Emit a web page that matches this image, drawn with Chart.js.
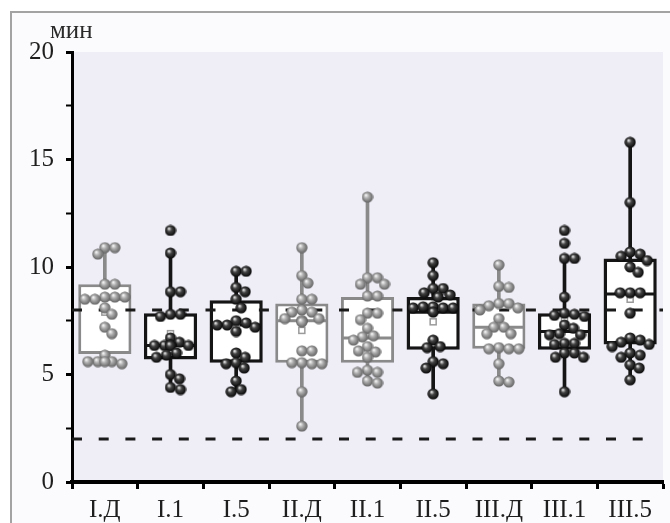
<!DOCTYPE html>
<html>
<head>
<meta charset="utf-8">
<script src="https://cdn.jsdelivr.net/npm/chart.js@4/dist/chart.umd.min.js"></script>
<style>
    body { margin: 0; background: #ffffff; }
    #wrap { position: relative; width: 670px; height: 523px; overflow: hidden; }
    #frame {
        position: absolute; left: 10px; top: 11px; width: 700px; height: 600px;
        border-top: 2px solid #a3a3a3; border-left: 2px solid #a3a3a3;
        background: #fbfbfd;
    }
    #chart { position: absolute; left: 0; top: 0; }
</style>
</head>
<body>
<div id="wrap">
    <div id="frame"></div>
    <canvas id="chart" width="670" height="523"></canvas>
</div>
<script>
// Groups along the x axis
const categories = ['I.Д', 'I.1', 'I.5', 'II.Д', 'II.1', 'II.5', 'III.Д', 'III.1', 'III.5'];
// true = dark (black) group, false = grey group
const darkGroup = [false, true, true, false, false, true, false, true, true];

// Box statistics, minutes
const whiskerLow  = [5.6, 4.3, 4.2, 2.6, 4.6, 4.1, 4.7, 4.2, 4.75];
const quartile1   = [5.95, 5.7, 5.55, 5.55, 5.55, 6.15, 6.2, 6.15, 6.4];
const medians     = [8.5, 6.35, 7.3, 7.5, 6.7, 7.9, 7.2, 7.0, 8.75];
const quartile3   = [9.2, 7.85, 8.45, 8.3, 8.6, 8.6, 8.3, 7.85, 10.4];
const whiskerHigh = [10.7, 10.65, 9.8, 10.9, 13.25, 10.2, 10.1, 10.4, 15.8];
const means       = [7.9, 6.9, 7.3, 7.05, 7.05, 7.45, 7.3, 7.6, 8.5];

// Individual observations per group
const ptsID   = [10.9, 10.9, 10.6, 9.2, 9.2, 8.6, 8.6, 8.5, 8.6, 8.5, 8.1, 7.8, 7.2, 6.9, 5.9, 5.6, 5.6, 5.5, 5.6, 5.6];
const ptsI1   = [11.7, 10.65, 8.85, 8.85, 7.8, 7.8, 7.7, 6.7, 6.5, 6.35, 6.35, 6.35, 6.35, 6.35, 6.0, 5.9, 5.8, 5.0, 4.8, 4.4, 4.3];
const ptsI5   = [9.8, 9.8, 9.05, 8.85, 8.5, 8.1, 7.5, 7.4, 7.3, 7.3, 7.2, 7.0, 6.0, 5.8, 5.55, 5.5, 5.3, 4.7, 4.3, 4.2];
const ptsIID  = [10.9, 9.6, 9.25, 8.5, 8.5, 8.0, 7.9, 7.9, 7.6, 7.6, 7.5, 7.5, 7.45, 6.1, 6.1, 5.55, 5.5, 5.55, 5.5, 4.2, 2.6];
const ptsII1  = [13.25, 9.5, 9.5, 9.2, 9.2, 8.65, 8.65, 7.85, 7.85, 7.55, 7.15, 6.8, 6.75, 6.6, 6.3, 6.05, 6.1, 5.8, 5.2, 5.1, 5.1, 4.7, 4.6];
const ptsII5  = [10.2, 9.6, 9.0, 9.0, 8.8, 8.7, 8.6, 8.15, 8.1, 8.15, 8.1, 8.1, 7.9, 6.6, 6.3, 6.25, 5.6, 5.5, 5.3, 4.1];
const ptsIIID = [10.1, 9.1, 9.05, 8.3, 8.3, 8.2, 8.1, 8.0, 7.6, 7.2, 7.2, 6.9, 6.9, 6.25, 6.2, 6.2, 6.2, 5.5, 4.7, 4.65];
const ptsIII1 = [11.7, 11.1, 10.4, 10.4, 8.6, 7.85, 7.8, 7.75, 7.7, 7.3, 7.15, 6.9, 6.85, 6.85, 6.45, 6.45, 6.4, 6.0, 6.0, 5.8, 5.8, 4.2];
const ptsIII5 = [15.8, 13.0, 10.7, 10.6, 10.5, 10.3, 10.0, 9.75, 8.8, 8.8, 8.8, 7.85, 6.7, 6.6, 6.5, 6.4, 6.3, 6.0, 5.9, 5.8, 5.45, 5.3, 4.75];
const groupPoints = [ptsID, ptsI1, ptsI5, ptsIID, ptsII1, ptsII5, ptsIIID, ptsIII1, ptsIII5];

// Dashed reference levels
const refUpper = 8;
const refLower = 2;
const yTicks = [0, 2.5, 5, 7.5, 10, 12.5, 15, 17.5, 20];

const DARK = '#151515';
const GREY = '#8a8a8a';
const FONT = "'Liberation Serif', 'Times New Roman', serif";

// Shaded sphere used as point marker
function makeBall(dark) {
    const c = document.createElement('canvas');
    c.width = 12; c.height = 12;
    const g = c.getContext('2d');
    const grad = g.createRadialGradient(4.3, 4.0, 0.4, 6, 6, 6);
    grad.addColorStop(0, dark ? '#e6e6e6' : '#f4f4f4');
    grad.addColorStop(0.35, dark ? '#444444' : '#b0b0b0');
    grad.addColorStop(1, dark ? '#000000' : '#5a5a5a');
    g.fillStyle = grad;
    g.beginPath();
    g.arc(6, 6, 5.6, 0, Math.PI * 2);
    g.fill();
    return c;
}
const darkBall = makeBall(true);
const greyBall = makeBall(false);

const lineColors = darkGroup.map(d => d ? DARK : GREY);

// Plot area tint
const plotBackground = {
    id: 'plotBackground',
    beforeDraw(chart) {
        const { ctx, chartArea: a } = chart;
        ctx.save();
        ctx.fillStyle = '#efeef7';
        ctx.fillRect(a.left, a.top, a.right - a.left, a.bottom - a.top);
        // unit label above the y axis
        ctx.fillStyle = '#2a2a2a';
        ctx.font = '25px ' + FONT;
        ctx.textBaseline = 'alphabetic';
        ctx.fillText('мин', a.left - 22, a.top - 14);
        ctx.restore();
    }
};

// Median lines and mean squares, drawn right after the boxes
const boxExtras = {
    id: 'boxExtras',
    afterDatasetDraw(chart, args) {
        if (args.meta.label !== 'boxes') return;
        const { ctx } = chart;
        const x = chart.scales.x, y = chart.scales.y;
        const half = args.meta.data[0].width / 2;
        ctx.save();
        categories.forEach((c, i) => {
            const cx = x.getPixelForValue(i);
            const my = y.getPixelForValue(medians[i]);
            ctx.strokeStyle = lineColors[i];
            ctx.lineWidth = 3;
            ctx.beginPath();
            ctx.moveTo(cx - half + 1, my);
            ctx.lineTo(cx + half - 1, my);
            ctx.stroke();
            const sy = y.getPixelForValue(means[i]);
            ctx.fillStyle = '#ffffff';
            ctx.strokeStyle = '#9a9a9a';
            ctx.lineWidth = 1.5;
            ctx.fillRect(cx - 3, sy - 3, 6, 6);
            ctx.strokeRect(cx - 3, sy - 3, 6, 6);
        });
        ctx.restore();
    }
};

const datasets = [];
// whiskers: thin floating bars behind the boxes
datasets.push({
    type: 'bar',
    label: 'whiskers',
    data: categories.map((c, i) => ({ x: i, y: [whiskerLow[i], whiskerHigh[i]] })),
    backgroundColor: lineColors,
    borderWidth: 0,
    barThickness: 3,
    grouped: false,
    order: 6
});
// boxes: floating bars from Q1 to Q3
datasets.push({
    type: 'bar',
    label: 'boxes',
    data: categories.map((c, i) => ({ x: i, y: [quartile1[i], quartile3[i]] })),
    backgroundColor: '#ffffff',
    borderColor: lineColors,
    borderWidth: darkGroup.map(d => d ? 3.5 : 3),
    borderSkipped: false,
    categoryPercentage: 0.81,
    barPercentage: 1,
    grouped: false,
    order: 5
});
// dashed reference lines
datasets.push({
    type: 'line',
    label: 'ref8',
    data: [{ x: -0.5, y: refUpper }, { x: 8.5, y: refUpper }],
    borderColor: '#1a1a1a',
    borderWidth: 3,
    borderDash: [10, 16.7],
    pointRadius: 0,
    order: 4
});
datasets.push({
    type: 'line',
    label: 'ref2',
    data: [{ x: -0.5, y: refLower }, { x: 8.2, y: refLower }],
    borderColor: '#1a1a1a',
    borderWidth: 3,
    borderDash: [10, 16.7],
    pointRadius: 0,
    order: 4
});
// observations, one scatter dataset per group
groupPoints.forEach((vals, i) => {
    datasets.push({
        type: 'scatter',
        label: categories[i],
        data: vals.map(v => ({ x: i, y: v })),
        pointStyle: darkGroup[i] ? darkBall : greyBall,
        pointRadius: 6,
        order: 1
    });
});

const chart = new Chart(document.getElementById('chart'), {
    type: 'scatter',
    data: { datasets: datasets },
    options: {
        responsive: false,
        animation: false,
        devicePixelRatio: 1,
        layout: { padding: { top: 52, right: 6, left: 0, bottom: 0 } },
        plugins: { legend: { display: false }, tooltip: { enabled: false } },
        scales: {
            x: {
                type: 'linear',
                min: -0.5,
                max: 8.5,
                offset: false,
                afterBuildTicks: s => { s.ticks = categories.map((c, i) => ({ value: i })); },
                afterFit: s => { s.height = 41; },
                ticks: {
                    autoSkip: false,
                    maxRotation: 0,
                    padding: 6,
                    color: '#1e1e1e',
                    font: { family: FONT, size: 25 },
                    callback: v => categories[v]
                },
                grid: { drawOnChartArea: false, drawTicks: true, tickLength: 7, tickWidth: 3, tickColor: '#000' },
                border: { display: true, color: '#000', width: 4 }
            },
            y: {
                min: 0,
                max: 20,
                afterBuildTicks: s => { s.ticks = yTicks.map(v => ({ value: v })); },
                afterFit: s => { s.width = 72; },
                ticks: {
                    padding: 12,
                    color: '#1e1e1e',
                    font: { family: FONT, size: 25 },
                    callback: v => (v % 5 === 0 ? v : '')
                },
                grid: {
                    drawOnChartArea: false,
                    drawTicks: true,
                    tickLength: 6,
                    tickWidth: ctx => (ctx.tick && ctx.tick.value % 5 === 0 ? 3 : 2),
                    tickColor: '#000'
                },
                border: { display: true, color: '#000', width: 3 }
            }
        }
    },
    plugins: [plotBackground, boxExtras]
});

// Spread the observations sideways (beeswarm) so balls do not sit on top of each other
function layoutSwarm() {
    const xs = chart.scales.x, ys = chart.scales.y;
    const first = datasets.length - groupPoints.length;
    const minGap = 9.5, maxShift = 23;
    groupPoints.forEach((vals, i) => {
        const cx = xs.getPixelForValue(i);
        const placed = [];
        const shifted = vals.map(v => {
            const py = ys.getPixelForValue(v);
            let best = 0;
            search:
            for (let k = 0; k <= maxShift; k++) {
                for (const s of (k === 0 ? [0] : [k, -k])) {
                    if (placed.every(p => Math.hypot(p.x - s, p.y - py) >= minGap)) {
                        best = s;
                        break search;
                    }
                }
            }
            placed.push({ x: best, y: py });
            return { x: xs.getValueForPixel(cx + best), y: v };
        });
        chart.data.datasets[first + i].data = shifted;
    });
    chart.update('none');
}
layoutSwarm();
</script>
</body>
</html>
